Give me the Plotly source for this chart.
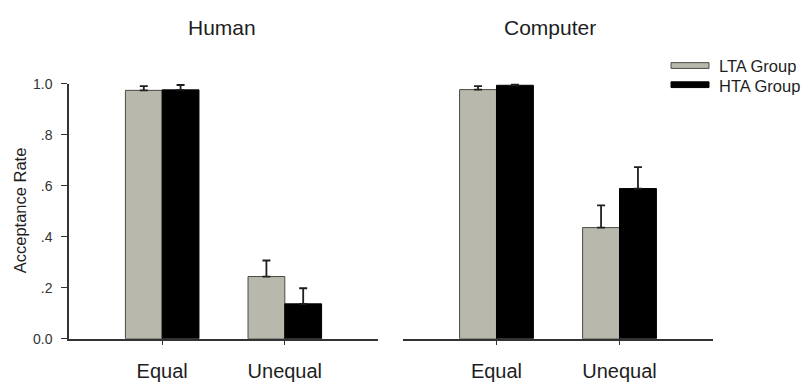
import plotly.graph_objects as go

# Acceptance rates by offer type, for human and computer proposers
conditions = ["Equal", "Unequal"]
groups = ["LTA Group", "HTA Group"]
panels = ["Human", "Computer"]

human_lta = [0.974, 0.244]
human_hta = [0.976, 0.137]
human_lta_err = [0.017, 0.063]
human_hta_err = [0.019, 0.061]

computer_lta = [0.977, 0.436]
computer_hta = [0.994, 0.589]
computer_lta_err = [0.014, 0.087]
computer_hta_err = [0.006, 0.084]

y_tickvals = [0.0, 0.2, 0.4, 0.6, 0.8, 1.0]
y_ticktext = ["0.0", ".2", ".4", ".6", ".8", "1.0"]

W, H = 806, 388
FONT = "Liberation Sans, Arial, sans-serif"
LTA_FILL = "#b8b8ad"
LTA_LINE = "#4a4a44"
HTA_FILL = "#000000"
INK = "#1e1e1e"


def px_x(v):
    return v / W


def px_y(v):
    return 1 - v / H


fills = [LTA_FILL, HTA_FILL]
lines = [LTA_LINE, "#000000"]
panel_data = [
    (human_lta, human_hta, human_lta_err, human_hta_err),
    (computer_lta, computer_hta, computer_lta_err, computer_hta_err),
]

fig = go.Figure()
for p, (lta, hta, lta_err, hta_err) in enumerate(panel_data):
    xa = "x" if p == 0 else "x2"
    ya = "y" if p == 0 else "y2"
    for g, (vals, errs) in enumerate([(lta, lta_err), (hta, hta_err)]):
        fig.add_trace(go.Bar(
            x=conditions, y=vals, name=groups[g],
            xaxis=xa, yaxis=ya, offsetgroup=str(g),
            marker=dict(color=fills[g], line=dict(color=lines[g], width=1)),
            error_y=dict(type="data", symmetric=False, array=errs,
                         arrayminus=[0] * len(errs),
                         color=INK, thickness=1.8, width=4),
            showlegend=False,
        ))

y_dom = [px_y(345), px_y(79)]
x_range = [-0.76, 1.76]
common_x = dict(type="category", range=x_range, showline=True, linecolor="#333333",
                linewidth=1.5, ticks="outside", ticklen=4, tickcolor="#333333",
                tickwidth=1.2, showgrid=False, zeroline=False, ticklabelstandoff=9,
                tickfont=dict(family=FONT, size=20, color=INK))

fig.update_layout(
    width=W, height=H,
    margin=dict(l=0, r=0, t=0, b=0),
    paper_bgcolor="white", plot_bgcolor="white",
    barmode="group", bargap=0.4, bargroupgap=0,
    xaxis=dict(domain=[px_x(69), px_x(378)], anchor="y", **common_x),
    xaxis2=dict(domain=[px_x(403), px_x(713)], anchor="y2", **common_x),
    yaxis=dict(domain=y_dom, range=[0, 1.0], anchor="x", showline=True,
               linecolor="#333333", linewidth=1.5, ticks="outside", ticklen=6,
               tickcolor="#333333", tickwidth=1.2, tickvals=y_tickvals,
               ticktext=y_ticktext, showgrid=False, zeroline=False,
               ticklabelstandoff=6,
               tickfont=dict(family=FONT, size=14, color="#333333")),
    yaxis2=dict(domain=y_dom, range=[0, 1.0], anchor="x2", visible=False),
    font=dict(family=FONT, color=INK),
)

# Panel titles
for name, cx in zip(panels, [222, 550]):
    fig.add_annotation(text=name, x=px_x(cx), y=px_y(20), xref="paper", yref="paper",
                       xanchor="center", yanchor="middle", showarrow=False,
                       font=dict(family=FONT, size=21, color=INK))

# Y axis title
fig.add_annotation(text="Acceptance Rate", x=px_x(20), y=px_y(211), xref="paper",
                   yref="paper", xanchor="center", yanchor="middle", textangle=-90,
                   showarrow=False, font=dict(family=FONT, size=16.5, color=INK))

# Legend: wide flat swatches with labels
for g, cy in enumerate([60, 80]):
    fig.add_shape(type="rect", xref="paper", yref="paper",
                  x0=px_x(671), x1=px_x(709), y0=px_y(cy - 3), y1=px_y(cy + 3),
                  fillcolor=fills[g], line=dict(color=lines[g], width=1))
    fig.add_annotation(text=groups[g], x=px_x(717), y=px_y(cy + 1), xref="paper",
                       yref="paper", xanchor="left", yanchor="middle",
                       showarrow=False, font=dict(family=FONT, size=16.5, color=INK))

fig.write_html("out.html")
